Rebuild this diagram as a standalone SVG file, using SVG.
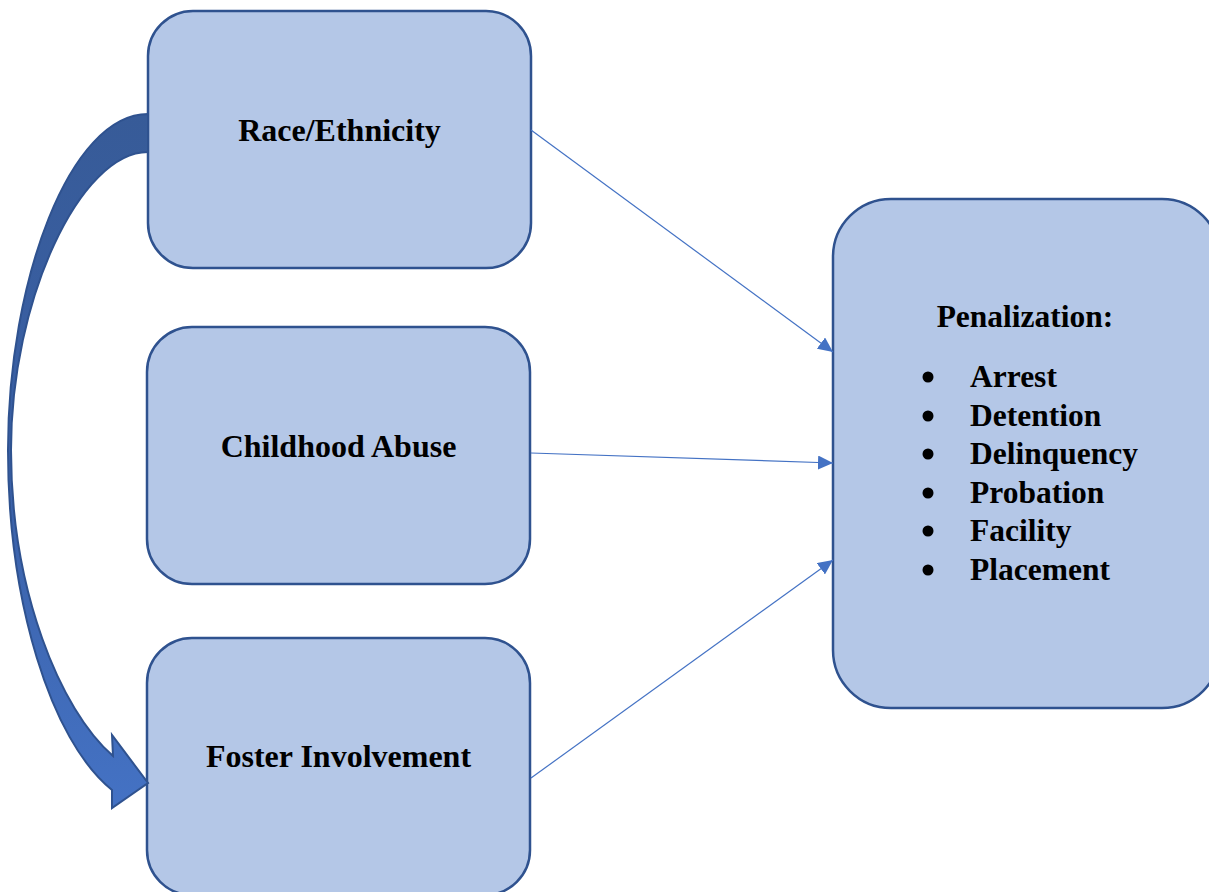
<svg xmlns="http://www.w3.org/2000/svg" width="1209" height="892" viewBox="0 0 1209 892">
  <style>
    .box { fill: #B4C7E7; stroke: #2F528F; stroke-width: 2.5; }
    .lbl { font-family: "Liberation Serif", "Times New Roman", serif; font-weight: bold; fill: #000; }
    .conn { stroke: #4472C4; stroke-width: 1.2; fill: none; marker-end: url(#ah); }
  </style>
  <defs>
    <marker id="ah" markerUnits="userSpaceOnUse" markerWidth="16" markerHeight="14" refX="15" refY="7" orient="auto">
      <path d="M0,0 L15,7 L0,14 Z" fill="#4472C4"/>
    </marker>
    <linearGradient id="cg" x1="0" y1="0" x2="0" y2="1">
      <stop offset="0" stop-color="#375B98"/>
      <stop offset="0.5" stop-color="#3A60A6"/>
      <stop offset="1" stop-color="#4472C4"/>
    </linearGradient>
  </defs>

  <g id="race">
    <rect class="box" x="148" y="11" width="383" height="257" rx="45" ry="45"/>
    <text class="lbl" x="339.5" y="141" font-size="32" text-anchor="middle">Race/Ethnicity</text>
  </g>
  <g id="abuse">
    <rect class="box" x="147" y="327" width="383" height="257" rx="45" ry="45"/>
    <text class="lbl" x="338.5" y="457" font-size="32" text-anchor="middle">Childhood Abuse</text>
  </g>
  <g id="foster">
    <rect class="box" x="147" y="638" width="383" height="257" rx="45" ry="45"/>
    <text class="lbl" x="338.5" y="767" font-size="32" text-anchor="middle">Foster Involvement</text>
  </g>
  <g id="penalization">
    <rect class="box" x="833" y="199" width="387" height="509" rx="58" ry="58"/>
    <text class="lbl" x="1025" y="327" font-size="31.5" text-anchor="middle">Penalization:</text>
    <g fill="#000">
      <circle cx="928" cy="377" r="5.5"/>
      <circle cx="928" cy="416" r="5.5"/>
      <circle cx="928" cy="454" r="5.5"/>
      <circle cx="928" cy="493" r="5.5"/>
      <circle cx="928" cy="531" r="5.5"/>
      <circle cx="928" cy="570" r="5.5"/>
    </g>
    <text class="lbl" x="970" y="387" font-size="31.5">Arrest</text>
    <text class="lbl" x="970" y="426" font-size="31.5">Detention</text>
    <text class="lbl" x="970" y="464" font-size="31.5">Delinquency</text>
    <text class="lbl" x="970" y="503" font-size="31.5">Probation</text>
    <text class="lbl" x="970" y="541" font-size="31.5">Facility</text>
    <text class="lbl" x="970" y="580" font-size="31.5">Placement</text>
  </g>

  <g id="connectors">
    <line class="conn" x1="531" y1="130" x2="833" y2="352"/>
    <line class="conn" x1="531" y1="453" x2="833" y2="463"/>
    <line class="conn" x1="531" y1="778" x2="833" y2="560"/>
    <path id="curved-arrow" d="M148,152 C80,152 11,300 11,450 C11,590 60,710 113,756 L112,735 L148,783 L112,808 L112,790 C50,740 8,600 8,450 C8,280 70,114 148,114 Z" fill="url(#cg)" stroke="#2F528F" stroke-width="2" stroke-linejoin="miter"/>
  </g>
</svg>
